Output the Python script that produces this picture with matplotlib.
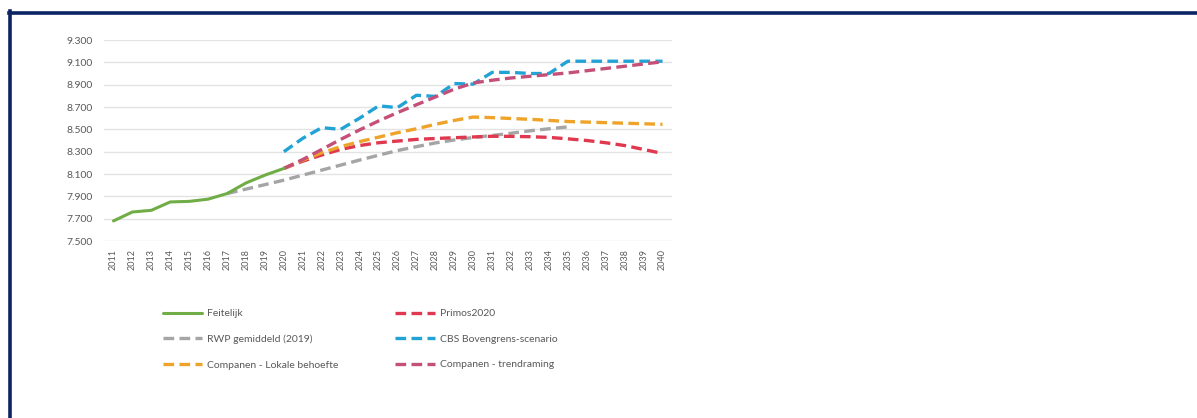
import matplotlib.pyplot as plt
from matplotlib.lines import Line2D

years = list(range(2011, 2041))
year_labels = [str(y) for y in years]

feitelijk_years = list(range(2011, 2021))
feitelijk = [7680, 7760, 7775, 7850, 7855, 7875, 7925, 8020, 8090, 8150]

rwp_years = list(range(2017, 2036))
rwp = [7925, 7965, 8005, 8045, 8090, 8135, 8180, 8225, 8268, 8310,
       8345, 8378, 8405, 8427, 8445, 8465, 8487, 8505, 8522]

proj_years = list(range(2020, 2041))
primos = [8150, 8215, 8270, 8320, 8355, 8380, 8395, 8410, 8418, 8425, 8432,
          8438, 8437, 8434, 8428, 8415, 8400, 8380, 8355, 8320, 8284]
cbs = [8300, 8420, 8515, 8500, 8600, 8710, 8695, 8805, 8795, 8910, 8905,
       9010, 9010, 9000, 9000, 9110, 9110, 9110, 9110, 9110, 9110]
lokaal = [8150, 8225, 8290, 8345, 8390, 8430, 8470, 8505, 8545, 8580, 8610,
          8605, 8597, 8590, 8580, 8570, 8565, 8560, 8555, 8550, 8545]
trend = [8150, 8230, 8320, 8410, 8495, 8575, 8650, 8720, 8790, 8860, 8915,
         8940, 8960, 8975, 8990, 9005, 9025, 9045, 9065, 9085, 9105]

yticks = [7500, 7700, 7900, 8100, 8300, 8500, 8700, 8900, 9100, 9300]

plt.rcParams["font.family"] = ["Lato", "DejaVu Sans"]
txt = "#595959"

fig = plt.figure(figsize=(11.97, 4.18), dpi=100)
ax = fig.add_axes([0.0869, 0.4234, 0.4745, 0.4809])

dash = (3.2, 1.6)
lw = 2.4
ax.plot(feitelijk_years, feitelijk, color="#70ad47", linewidth=2.2,
        solid_capstyle="round", label="Feitelijk", zorder=3)
ax.plot(rwp_years, rwp, color="#a5a5a5", linewidth=lw, dashes=dash,
        label="RWP gemiddeld (2019)", zorder=2)
ax.plot(proj_years, primos, color="#e0394f", linewidth=lw, dashes=dash,
        label="Primos2020", zorder=2)
ax.plot(proj_years, cbs, color="#22a3d6", linewidth=lw, dashes=dash,
        label="CBS Bovengrens-scenario", zorder=2)
ax.plot(proj_years, lokaal, color="#eea32a", linewidth=lw, dashes=dash,
        label="Companen - Lokale behoefte", zorder=2)
ax.plot(proj_years, trend, color="#c4507a", linewidth=lw, dashes=dash,
        label="Companen - trendraming", zorder=2)

ax.set_xlim(2010.5, 2040.5)
ax.set_ylim(7500, 9300)
ax.set_xticks(years)
ax.set_xticklabels(year_labels, rotation=90, fontsize=6.5, color=txt)
ax.set_yticks(yticks)
ax.set_yticklabels([f"{v / 1000:.3f}" for v in yticks], fontsize=7.5, color=txt)
ax.tick_params(length=0, pad=8)
ax.tick_params(axis="x", pad=6)
for s in ax.spines.values():
    s.set_visible(False)
ax.grid(axis="y", color="#e3e3e3", linewidth=1.0)
ax.set_axisbelow(True)

h, l = ax.get_legend_handles_labels()
order = [0, 1, 4, 2, 3, 5]
fig.legend([h[i] for i in order], [l[i] for i in order], ncol=2,
           loc="upper left", bbox_to_anchor=(0.128, 0.283), frameon=False,
           fontsize=7.5, labelcolor=txt, handlelength=3.8, handletextpad=0.5,
           columnspacing=5.4, labelspacing=1.55)

# dark frame along top and left edge
fig.add_artist(Line2D([8.5 / 1197, 1], [1 - 12.5 / 418, 1 - 12.5 / 418],
                      color="#0b2464", linewidth=2.6))
fig.add_artist(Line2D([9.5 / 1197, 9.5 / 1197], [0, 1 - 11 / 418],
                      color="#0b2464", linewidth=2.6))

fig.savefig("out.png", dpi=100)
